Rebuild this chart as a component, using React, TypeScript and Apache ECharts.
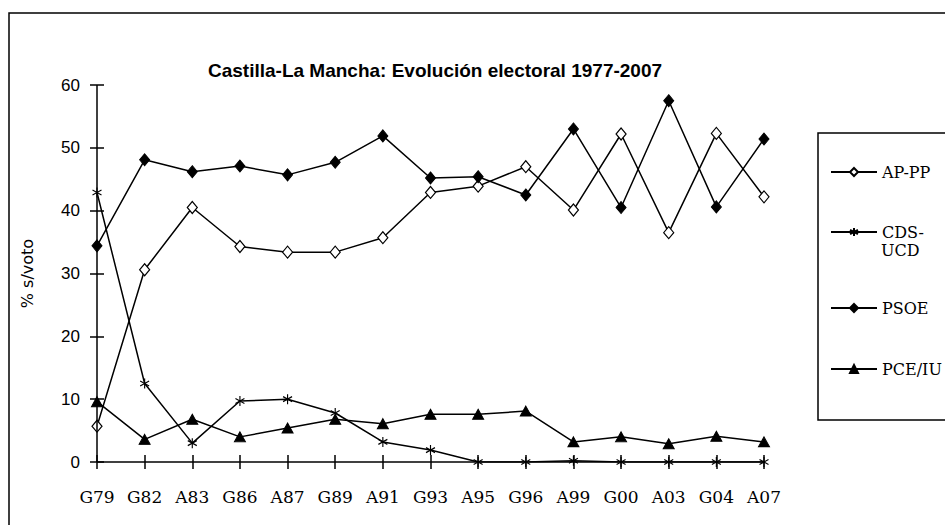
import React, { useEffect, useRef } from "react";
import * as echarts from "echarts";

const titleText = "Castilla-La Mancha: Evolución electoral 1977-2007";
const categories = ["G79", "G82", "A83", "G86", "A87", "G89", "A91", "G93", "A95", "G96", "A99", "G00", "A03", "G04", "A07"];
const apPP = [5.7, 30.6, 40.5, 34.3, 33.4, 33.4, 35.7, 42.9, 43.9, 47.0, 40.1, 52.2, 36.5, 52.3, 42.2];
const cdsUCD = [42.9, 12.5, 3.0, 9.7, 10.0, 7.8, 3.2, 1.9, 0, 0, 0.2, 0, 0, 0, 0];
const psoe = [34.4, 48.1, 46.2, 47.1, 45.7, 47.7, 51.9, 45.2, 45.4, 42.5, 53.0, 40.5, 57.5, 40.6, 51.4];
const pceIU = [9.6, 3.6, 6.8, 4.0, 5.4, 6.8, 6.1, 7.6, 7.6, 8.1, 3.2, 4.0, 2.9, 4.1, 3.2];
const yTicks = { min: 0, max: 60, interval: 10 };

const SERIF = "'DejaVu Serif', 'Liberation Serif', serif";
const SANS = "'Liberation Sans', Arial, sans-serif";
const ASTERISK = "path://M5,0 L5,10 M0.7,2.5 L9.3,7.5 M0.7,7.5 L9.3,2.5";

export default function App() {
  const ref = useRef<HTMLDivElement>(null);
  useEffect(() => {
    if (!ref.current) return;
    const chart = echarts.init(ref.current, null, { renderer: "svg" });
    const line = { color: "#000", width: 1.5 };
    const mkLegend = (name: string, top: number, label?: string) => ({
      data: [name],
      orient: "vertical",
      left: 830,
      top,
      padding: 0,
      itemWidth: 46,
      itemHeight: 10,
      selectedMode: false,
      formatter: label ? () => label : undefined,
      textStyle: { fontFamily: SERIF, fontSize: 16, color: "#000" },
    });
    const tickStyle = { color: "#000", width: 1.5 };
    chart.setOption({
      animation: false,
      backgroundColor: "#fff",
      title: {
        text: titleText,
        left: 435,
        textAlign: "center",
        top: 61,
        padding: 0,
        textStyle: { fontFamily: SANS, fontSize: 19, fontWeight: "bold", color: "#000" },
      },
      legend: [
        mkLegend("AP-PP", 164),
        mkLegend("CDS-UCD", 224, "CDS-"),
        mkLegend("PSOE", 300),
        mkLegend("PCE/IU", 361),
      ],
      grid: { left: 97, right: 181, top: 85, bottom: 63 },
      xAxis: {
        type: "category",
        data: categories,
        boundaryGap: false,
        position: "bottom",
        offset: -7,
        axisLine: { show: false, onZero: false },
        axisTick: { show: true, length: 14, lineStyle: tickStyle },
        axisLabel: { margin: 33, fontFamily: SERIF, fontSize: 17, color: "#000" },
      },
      yAxis: {
        type: "value",
        min: yTicks.min,
        max: yTicks.max,
        interval: yTicks.interval,
        offset: -7,
        name: "% s/voto",
        nameLocation: "middle",
        nameGap: 69,
        nameTextStyle: { fontFamily: "'DejaVu Sans', sans-serif", fontSize: 16, color: "#000" },
        splitLine: { show: false },
        axisLine: { show: false },
        axisTick: { show: true, length: 14, lineStyle: tickStyle },
        axisLabel: { margin: 24, fontFamily: SANS, fontSize: 17, color: "#000" },
      },
      series: [
        {
          name: "AP-PP",
          type: "line",
          data: apPP,
          symbol: "diamond",
          symbolSize: [10, 12],
          lineStyle: line,
          z: 3,
          itemStyle: { color: "#fff", borderColor: "#000", borderWidth: 1.2 },
          markLine: {
            silent: true,
            symbol: "none",
            label: { show: false },
            lineStyle: { color: "#000", width: 1.5, type: "solid" },
            emphasis: { disabled: true },
            data: [{ yAxis: yTicks.min }, { xAxis: categories[0] }],
          },
        },
        {
          name: "CDS-UCD",
          type: "line",
          data: cdsUCD,
          symbol: ASTERISK,
          symbolSize: [9, 10],
          lineStyle: line,
          itemStyle: { color: "#000", borderColor: "#000", borderWidth: 1.2 },
        },
        {
          name: "PSOE",
          type: "line",
          data: psoe,
          symbol: "diamond",
          symbolSize: [10, 12],
          lineStyle: line,
          itemStyle: { color: "#000", borderColor: "#000", borderWidth: 1 },
        },
        {
          name: "PCE/IU",
          type: "line",
          data: pceIU,
          symbol: "triangle",
          symbolSize: [11, 10],
          lineStyle: line,
          itemStyle: { color: "#000", borderColor: "#000", borderWidth: 1 },
        },
      ],
      graphic: [
        {
          type: "rect",
          shape: { x: 9, y: 13, width: 1000, height: 600 },
          style: { fill: "none", stroke: "#000", lineWidth: 1.5 },
          silent: true,
        },
        {
          type: "rect",
          shape: { x: 818, y: 133, width: 200, height: 287 },
          style: { fill: "none", stroke: "#000", lineWidth: 1.5 },
          silent: true,
        },
        {
          type: "text",
          x: 881,
          y: 242,
          style: { text: "UCD", font: `16px ${SERIF}`, fill: "#000" },
          silent: true,
        },
      ],
    });
    return () => chart.dispose();
  }, []);
  return <div ref={ref} style={{ width: 945, height: 525, position: "absolute", left: 0, top: 0 }} />;
}
